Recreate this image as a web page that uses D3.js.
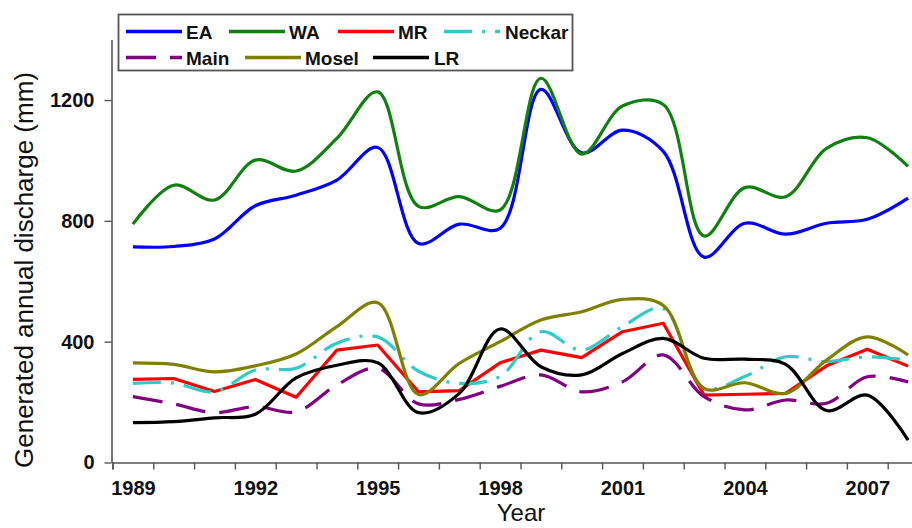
<!DOCTYPE html>
<html>
<head>
<meta charset="utf-8">
<script src="https://cdn.jsdelivr.net/npm/d3@7"></script>
<style>
  html, body { margin: 0; padding: 0; background: #fff; }
  svg { display: block; }
  text { font-family: "Liberation Sans", Arial, Helvetica, sans-serif; }
</style>
</head>
<body>
<svg id="chart" width="912" height="528"></svg>
<script>
// ---------- data ----------
const years = [1989,1990,1991,1992,1993,1994,1995,1996,1997,1998,1999,2000,2001,2002,2003,2004,2005,2006,2007,2008];
const EA     = [714, 715, 740, 850, 885, 935,1043, 725, 789, 775,1235,1025,1100,1030, 680, 792, 756, 792, 805, 875];
const WA     = [789, 918, 869,1001, 965,1073,1227, 848, 880, 836,1272,1021,1180,1185, 750, 910, 880,1040,1075, 980];
const MR     = [275, 278, 235, 275, 216, 372, 389, 234, 238, 330, 372, 347, 433, 461, 223, 226, 229, 320, 375, 319];
const Neckar = [262, 263, 234, 306, 312, 395, 416, 302, 262, 285, 433, 372, 450, 510, 246, 285, 350, 334, 350, 339];
const Main   = [218, 194, 165, 185, 168, 257, 312, 194, 209, 252, 290, 234, 267, 356, 218, 174, 207, 196, 284, 267];
const Mosel  = [330, 325, 300, 320, 359, 450, 529, 225, 328, 400, 472, 499, 540, 520, 245, 264, 229, 339, 416, 356];
const LR     = [132, 135, 148, 160, 280, 322, 330, 165, 229, 442, 317, 290, 361, 411, 345, 342, 325, 172, 223,  74];

const yTicks = [0, 400, 800, 1200];
const xLabelYears = [1989, 1992, 1995, 1998, 2001, 2004, 2007];
const xBoundaryTicks = d3.range(1988.5, 2008, 1);

const seriesNames  = ["EA", "WA", "MR", "Neckar", "Main", "Mosel", "LR"];
const seriesValues = [EA, WA, MR, Neckar, Main, Mosel, LR];
const seriesColors = ["#0000ff", "#118011", "#ff0000", "#33c9c9", "#800080", "#808000", "#000000"];
const seriesDash   = [null, null, null, "28,10,3,10", "30,14", null, null];
const seriesSmooth = [true, true, false, true, true, true, true];

// ---------- scales ----------
const svg = d3.select("#chart");
const x = d3.scaleLinear().domain([1988.5, 2008.5]).range([112.5, 928.5]);
const y = d3.scaleLinear().domain([0, 1400]).range([462.5, 39.6]);

const axisColor = "#555";

// ---------- axes ----------
const xAxisG = svg.append("g").attr("transform", `translate(0,${y(0)})`)
  .call(d3.axisBottom(x).tickValues(xBoundaryTicks).tickSize(7).tickFormat(""));
xAxisG.select(".domain").attr("stroke", axisColor).attr("stroke-width", 1.6);
xAxisG.selectAll(".tick line").attr("stroke", axisColor).attr("stroke-width", 1.4);

const xLabG = svg.append("g").attr("transform", `translate(0,${y(0)})`)
  .call(d3.axisBottom(x).tickValues(xLabelYears).tickSize(0).tickPadding(18).tickFormat(d3.format("d")));
xLabG.select(".domain").remove();
xLabG.selectAll(".tick text").attr("font-size", 20).attr("font-weight", "bold").attr("fill", "#111")
  .attr("font-family", "Liberation Sans, Arial, sans-serif");

const yAxisG = svg.append("g").attr("transform", `translate(${x(1988.5) - 1},0)`)
  .call(d3.axisLeft(y).tickValues(yTicks).tickSize(7).tickPadding(10).tickSizeOuter(0).tickFormat(d3.format("d")));
yAxisG.select(".domain").attr("stroke", axisColor).attr("stroke-width", 1.6);
yAxisG.selectAll(".tick line").attr("stroke", axisColor).attr("stroke-width", 1.4);
yAxisG.selectAll(".tick text").attr("font-size", 20).attr("font-weight", "bold").attr("fill", "#111")
  .attr("font-family", "Liberation Sans, Arial, sans-serif");

// axis titles
svg.append("text").attr("x", 521).attr("y", 521).attr("text-anchor", "middle")
  .attr("font-size", 24).attr("fill", "#111").text("Year");
svg.append("text").attr("transform", "translate(33,270) rotate(-90)").attr("text-anchor", "middle")
  .attr("font-size", 26).attr("fill", "#111").text("Generated annual discharge (mm)");

// ---------- lines ----------
const plot = svg.append("g");
seriesNames.forEach((name, i) => {
  const line = d3.line()
    .x((d, j) => x(years[j]))
    .y(d => y(d))
    .curve(seriesSmooth[i] ? d3.curveCatmullRom.alpha(0.5) : d3.curveLinear);
  plot.append("path")
    .datum(seriesValues[i])
    .attr("d", line)
    .attr("fill", "none")
    .attr("stroke", seriesColors[i])
    .attr("stroke-width", 3.2)
    .attr("stroke-linejoin", "round")
    .attr("stroke-dasharray", seriesDash[i]);
});

// ---------- legend ----------
const lg = svg.append("g");
lg.append("rect").attr("x", 118.5).attr("y", 14.5).attr("width", 454).attr("height", 56)
  .attr("fill", "#fff").attr("stroke", "#555").attr("stroke-width", 1.8);
const legendPos = [
  {x0: 126, x1: 182, tx: 186, cy: 31.5},
  {x0: 229, x1: 285, tx: 289, cy: 31.5},
  {x0: 338, x1: 394, tx: 398, cy: 31.5},
  {x0: 444, x1: 500, tx: 505, cy: 31.5},
  {x0: 126, x1: 182, tx: 186, cy: 57.5},
  {x0: 245, x1: 301, tx: 305, cy: 57.5},
  {x0: 373, x1: 429, tx: 434, cy: 57.5}
];
seriesNames.forEach((name, i) => {
  const p = legendPos[i];
  lg.append("line").attr("x1", p.x0).attr("x2", p.x1).attr("y1", p.cy).attr("y2", p.cy)
    .attr("stroke", seriesColors[i]).attr("stroke-width", 3.4)
    .attr("stroke-dasharray", seriesDash[i]);
  lg.append("text").attr("x", p.tx).attr("y", p.cy + 7).attr("font-size", 19)
    .attr("font-weight", "bold").attr("fill", "#111").text(name);
});
</script>
</body>
</html>
